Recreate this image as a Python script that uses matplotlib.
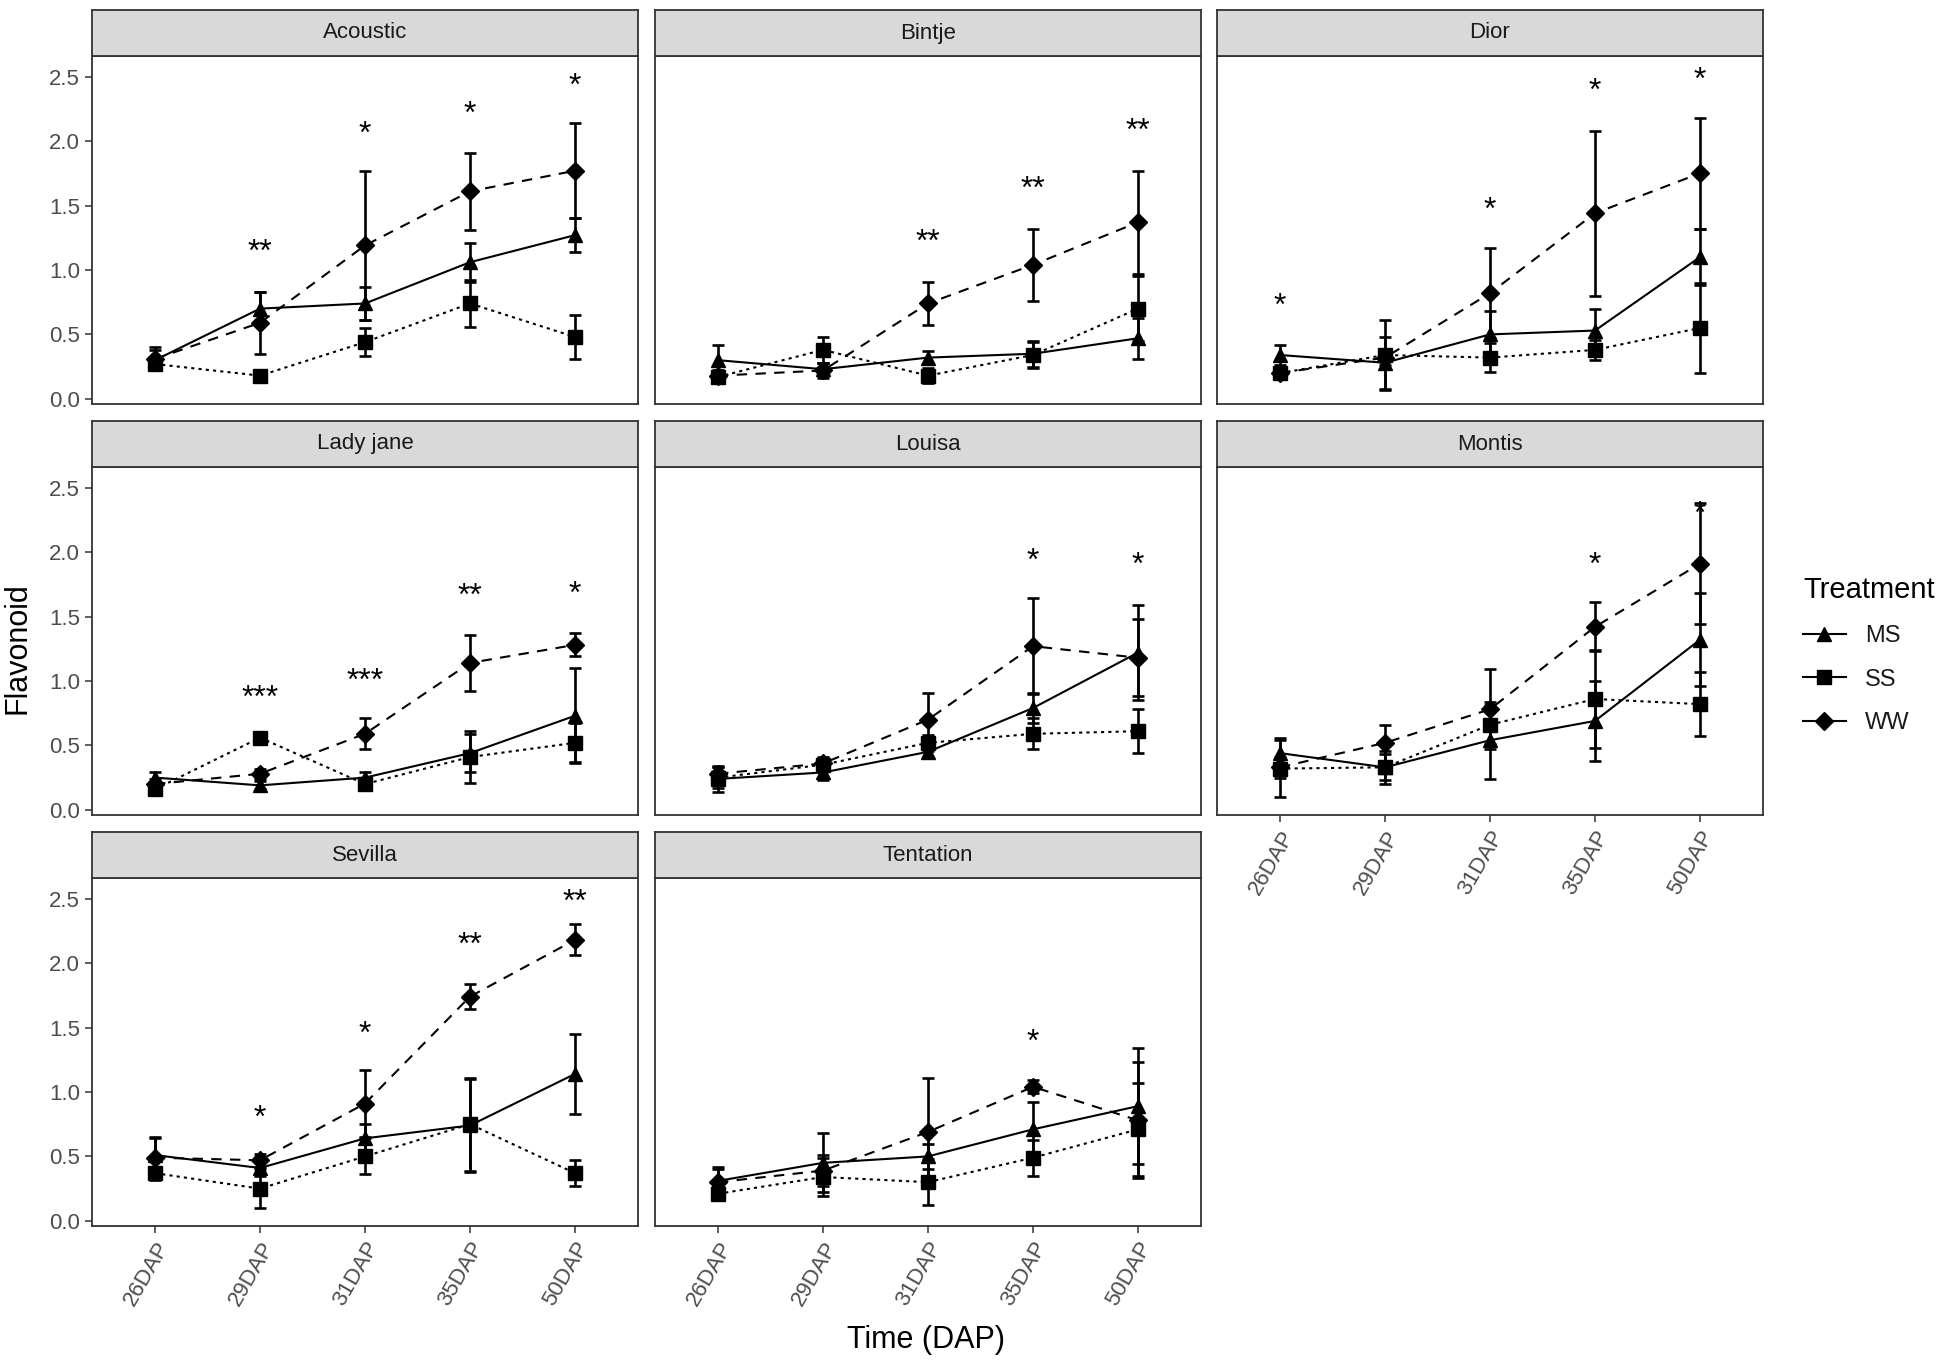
import matplotlib
matplotlib.use('Agg')
import matplotlib.pyplot as plt
from matplotlib.lines import Line2D
import numpy as np

plt.rcParams['font.family'] = ['Liberation Sans', 'DejaVu Sans']

times = ['26DAP', '29DAP', '31DAP', '35DAP', '50DAP']
cultivars = ['Acoustic', 'Bintje', 'Dior', 'Lady jane', 'Louisa', 'Montis',
             'Sevilla', 'Tentation']
treatments = ['MS', 'SS', 'WW']

# means per cultivar (rows) and time (columns)
ms_mean = [
    [0.30, 0.70, 0.74, 1.06, 1.27],
    [0.30, 0.23, 0.32, 0.35, 0.47],
    [0.34, 0.28, 0.50, 0.53, 1.10],
    [0.25, 0.19, 0.25, 0.44, 0.73],
    [0.24, 0.29, 0.45, 0.79, 1.22],
    [0.44, 0.33, 0.54, 0.69, 1.32],
    [0.51, 0.41, 0.64, 0.74, 1.14],
    [0.31, 0.45, 0.50, 0.71, 0.89],
]
ss_mean = [
    [0.27, 0.18, 0.44, 0.74, 0.48],
    [0.17, 0.38, 0.18, 0.34, 0.70],
    [0.20, 0.34, 0.32, 0.38, 0.55],
    [0.16, 0.56, 0.20, 0.41, 0.52],
    [0.25, 0.35, 0.52, 0.59, 0.61],
    [0.32, 0.33, 0.66, 0.86, 0.82],
    [0.37, 0.25, 0.50, 0.75, 0.37],
    [0.21, 0.34, 0.30, 0.49, 0.71],
]
ww_mean = [
    [0.31, 0.59, 1.19, 1.61, 1.77],
    [0.18, 0.22, 0.74, 1.04, 1.37],
    [0.20, 0.32, 0.82, 1.44, 1.75],
    [0.20, 0.28, 0.59, 1.14, 1.28],
    [0.28, 0.36, 0.70, 1.27, 1.18],
    [0.33, 0.52, 0.78, 1.42, 1.91],
    [0.49, 0.47, 0.91, 1.74, 2.18],
    [0.30, 0.39, 0.69, 1.04, 0.78],
]
# standard deviations
ms_sd = [
    [0.08, 0.13, 0.13, 0.15, 0.13],
    [0.12, 0.05, 0.05, 0.10, 0.16],
    [0.08, 0.20, 0.18, 0.17, 0.22],
    [0.04, 0.03, 0.04, 0.15, 0.37],
    [0.10, 0.06, 0.05, 0.12, 0.37],
    [0.12, 0.10, 0.30, 0.31, 0.36],
    [0.14, 0.06, 0.11, 0.36, 0.31],
    [0.11, 0.23, 0.10, 0.21, 0.45],
]
ss_sd = [
    [0.03, 0.02, 0.11, 0.18, 0.17],
    [0.04, 0.10, 0.06, 0.10, 0.25],
    [0.04, 0.27, 0.11, 0.08, 0.35],
    [0.03, 0.03, 0.04, 0.20, 0.15],
    [0.08, 0.05, 0.06, 0.12, 0.17],
    [0.22, 0.13, 0.15, 0.38, 0.25],
    [0.05, 0.15, 0.14, 0.36, 0.10],
    [0.04, 0.15, 0.18, 0.14, 0.36],
]
ww_sd = [
    [0.09, 0.24, 0.58, 0.30, 0.37],
    [0.04, 0.06, 0.17, 0.28, 0.40],
    [0.04, 0.06, 0.35, 0.64, 0.43],
    [0.04, 0.04, 0.12, 0.22, 0.09],
    [0.05, 0.05, 0.21, 0.37, 0.30],
    [0.08, 0.14, 0.31, 0.19, 0.47],
    [0.15, 0.05, 0.26, 0.10, 0.12],
    [0.10, 0.12, 0.42, 0.05, 0.45],
]
# significance labels and their heights
sig_text = [
    ['', '**', '*', '*', '*'],
    ['', '', '**', '**', '**'],
    ['*', '', '*', '*', '*'],
    ['', '***', '***', '**', '*'],
    ['', '', '', '*', '*'],
    ['', '', '', '*', '*'],
    ['', '*', '*', '**', '**'],
    ['', '', '', '*', ''],
]
sig_y = [
    [0, 1.18, 2.10, 2.25, 2.47],
    [0, 0, 1.26, 1.67, 2.12],
    [0.76, 0, 1.51, 2.43, 2.52],
    [0, 0.91, 1.04, 1.70, 1.72],
    [0, 0, 0, 1.97, 1.94],
    [0, 0, 0, 1.94, 2.34],
    [0, 0.84, 1.49, 2.18, 2.52],
    [0, 0, 0, 1.43, 0],
]

styles = {
    'MS': dict(marker='^', ls='-', ms=10),
    'SS': dict(marker='s', ls=(0, (1.5, 2.0)), ms=9.5),
    'WW': dict(marker='D', ls=(0, (5, 4)), ms=9.5),
}
means = {'MS': ms_mean, 'SS': ss_mean, 'WW': ww_mean}
sds = {'MS': ms_sd, 'SS': ss_sd, 'WW': ww_sd}

W, H = 1949, 1365
fig = plt.figure(figsize=(W / 100, H / 100), dpi=100)

col_left = [92, 655, 1217]
panel_w = 546
row_top = [56, 467, 878]
panel_h = 348
strip_h = 46
tick_col = '#4d4d4d'
x = np.arange(len(times))

for i, name in enumerate(cultivars):
    r, c = divmod(i, 3)
    left = col_left[c] / W
    bottom = 1 - (row_top[r] + panel_h) / H
    ax = fig.add_axes([left, bottom, panel_w / W, panel_h / H])
    sax = fig.add_axes([left, 1 - row_top[r] / H, panel_w / W, strip_h / H])
    sax.set_facecolor('#d9d9d9')
    sax.set_xticks([])
    sax.set_yticks([])
    for sp in sax.spines.values():
        sp.set_linewidth(1.3)
        sp.set_color('#333333')
    sax.text(0.5, 0.5, name, ha='center', va='center', fontsize=16,
             color='#1a1a1a', transform=sax.transAxes)

    for t in treatments:
        st = styles[t]
        ax.errorbar(x, means[t][i], yerr=sds[t][i], fmt='none', ecolor='black',
                    elinewidth=1.9, capsize=4, capthick=1.9, zorder=2)
        ax.plot(x, means[t][i], color='black', lw=1.5, ls=st['ls'],
                marker=st['marker'], markersize=st['ms'], zorder=3)
    for j, s in enumerate(sig_text[i]):
        if s:
            ax.text(x[j], sig_y[i][j] - 0.05, s, ha='center', va='center',
                    fontsize=23, color='black')

    ax.set_xlim(-0.6, 4.6)
    ax.set_ylim(-0.04, 2.66)
    ax.set_yticks([0, 0.5, 1.0, 1.5, 2.0, 2.5])
    ax.set_xticks(x)
    for sp in ax.spines.values():
        sp.set_linewidth(1.3)
        sp.set_color('#333333')
    ax.tick_params(colors='#333333', labelcolor=tick_col, labelsize=16,
                   width=1.1, length=5)
    if c == 0:
        ax.set_yticklabels(['0.0', '0.5', '1.0', '1.5', '2.0', '2.5'])
    else:
        ax.set_yticklabels([])
        ax.tick_params(axis='y', length=0)
    if r == 2 or i == 5:
        ax.set_xticklabels(times, rotation=60, ha='right', va='top',
                           rotation_mode='anchor')
    else:
        ax.set_xticklabels([])
        ax.tick_params(axis='x', length=0)

fig.text(18 / W, 1 - 648 / H, 'Flavonoid', rotation=90, ha='center',
         va='center', fontsize=22, color='black')
fig.text(926 / W, 1 - 1340 / H, 'Time (DAP)', ha='center', va='center',
         fontsize=22, color='black')

handles = [Line2D([0], [0], color='black', lw=1.5, marker=styles[t]['marker'],
                  markersize=styles[t]['ms']) for t in treatments]
leg = fig.legend(handles, treatments, title='Treatment', loc='center left',
                 bbox_to_anchor=(1782 / W, 1 - 655 / H), frameon=False,
                 fontsize=17, title_fontsize=21, handlelength=1.8,
                 labelspacing=0.9, alignment='left')
for txt in leg.get_texts():
    txt.set_color('#1a1a1a')

fig.savefig('out.png', dpi=100)
